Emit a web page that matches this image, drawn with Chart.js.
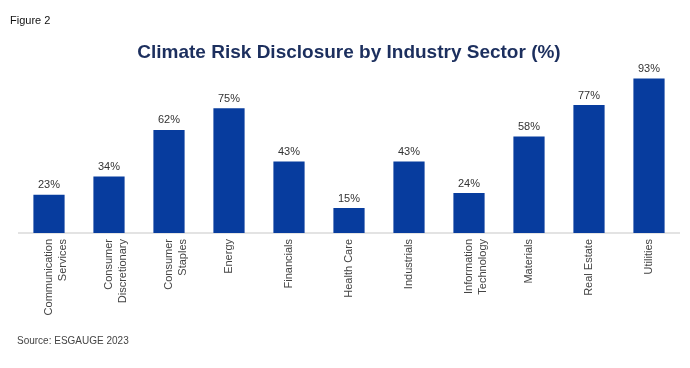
<!DOCTYPE html>
<html>
<head>
<meta charset="utf-8">
<script src="https://cdn.jsdelivr.net/npm/chart.js@4"></script>
<style>
  body { margin: 0; background: #fff; }
  #wrap { position: relative; width: 690px; height: 368px; }
  #fig { position: absolute; left: 10px; top: 14px; font: 11px "Liberation Sans", Arial, sans-serif; color: #111; }
  #src { position: absolute; left: 17px; top: 335px; font: 10px "Liberation Sans", Arial, sans-serif; color: #444; }
</style>
</head>
<body>
<div id="wrap">
  <canvas id="sectorChart" width="690" height="368"></canvas>
  <div id="fig">Figure 2</div>
  <div id="src">Source: ESGAUGE 2023</div>
</div>
<script>
const sectors = [
    ["Communication", "Services"],
    ["Consumer", "Discretionary"],
    ["Consumer", "Staples"],
    "Energy",
    "Financials",
    "Health Care",
    "Industrials",
    ["Information", "Technology"],
    "Materials",
    "Real Estate",
    "Utilities"
];
const disclosure = [23, 34, 62, 75, 43, 15, 43, 24, 58, 77, 93];

// value labels above bars (no datalabels plugin available offline)
const valueLabels = {
    id: "valueLabels",
    afterDatasetsDraw(chart) {
        const c = chart.ctx;
        const meta = chart.getDatasetMeta(0);
        c.save();
        c.font = "11px 'Liberation Sans', Arial, sans-serif";
        c.fillStyle = "#333";
        c.textAlign = "center";
        c.textBaseline = "bottom";
        meta.data.forEach((bar, i) => {
            c.fillText(disclosure[i] + "%", bar.x, bar.y - 4);
        });
        c.restore();
    }
};

const ctx = document.getElementById("sectorChart");

new Chart(ctx, {
    type: "bar",
    data: {
        labels: sectors,
        datasets: [
            {
                data: disclosure,
                backgroundColor: "#073c9e",
                barPercentage: 0.52,
                categoryPercentage: 1
            },
        ],
    },
    options: {
        responsive: false,
        animation: false,
        layout: {
            padding: { left: 19, right: 11 }
        },
        scales: {
            x: {
                grid: { display: false, drawTicks: false },
                border: { color: "#e3e3e3", width: 2 },
                ticks: {
                    minRotation: 90,
                    maxRotation: 90,
                    padding: 6,
                    color: "#444",
                    font: { family: "'Liberation Sans', Arial, sans-serif", size: 11, lineHeight: 1.25 }
                },
                afterFit(scale) { scale.height = 135; }
            },
            y: {
                display: false,
                min: 0,
                max: 100
            },
        },
        plugins: {
            title: {
                display: true,
                text: "Climate Risk Disclosure by Industry Sector (%)",
                color: "#1c2f5e",
                font: { family: "'Liberation Sans', Arial, sans-serif", size: 19, weight: "bold", lineHeight: 1.2 },
                padding: { top: 41, bottom: 3 }
            },
            legend: { display: false },
            tooltip: { enabled: false }
        },
    },
    plugins: [valueLabels]
});
</script>
</body>
</html>
